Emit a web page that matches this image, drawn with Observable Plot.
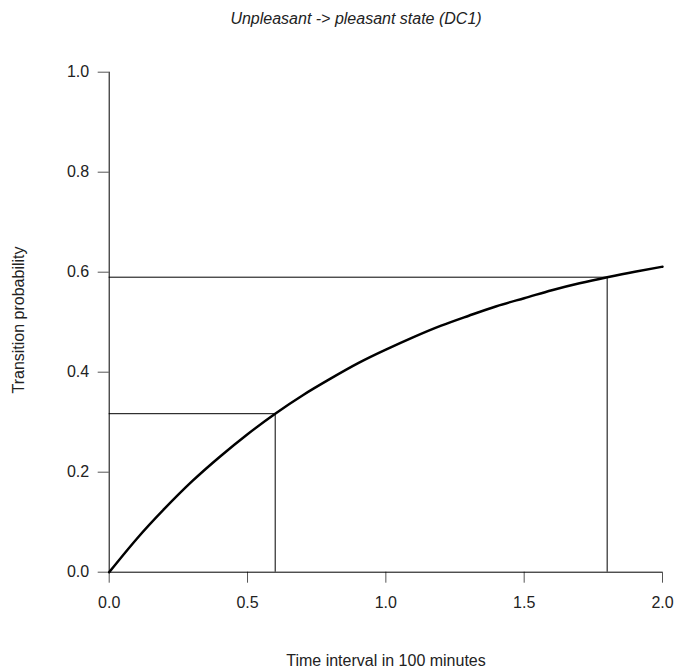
<!DOCTYPE html>
<html>
<head>
<meta charset="utf-8">
<script src="https://cdn.jsdelivr.net/npm/d3@7"></script>
<script src="https://cdn.jsdelivr.net/npm/@observablehq/plot@0.6"></script>
<style>
  html, body { margin: 0; padding: 0; background: #fff; }
  #chart svg { display: block; }
</style>
</head>
<body>
<div id="chart"></div>
<script>
// Values
const titleText = "Unpleasant -> pleasant state (DC1)";
const xLabel = "Time interval in 100 minutes";
const yLabel = "Transition probability";

const times = [0, 0.1, 0.2, 0.3, 0.4, 0.5, 0.6, 0.7, 0.8, 0.9, 1.0,
               1.1, 1.2, 1.3, 1.4, 1.5, 1.6, 1.7, 1.8, 1.9, 2.0];
const probs = [0, 0.067, 0.127, 0.182, 0.231, 0.276, 0.317, 0.354, 0.387, 0.418, 0.445,
               0.470, 0.493, 0.513, 0.532, 0.548, 0.564, 0.578, 0.590, 0.601, 0.611];

const refTimes = [0.6, 1.8];
const refProbs = [0.317, 0.590];

const xTicks = [0, 0.5, 1.0, 1.5, 2.0];
const yTicks = [0, 0.2, 0.4, 0.6, 0.8, 1.0];

const curve = times.map((t, i) => ({t, p: probs[i]}));
const refs = refTimes.map((t, i) => ({t, p: refProbs[i]}));

const font = "'Liberation Sans', Arial, sans-serif";

const plot = Plot.plot({
  width: 675,
  height: 672,
  marginLeft: 108.7,
  marginRight: 13,
  marginTop: 71.7,
  marginBottom: 100.3,
  style: {fontFamily: font, fontSize: "16px", color: "#222", background: "#fff", overflow: "visible"},
  x: {domain: [0, 2]},
  y: {domain: [0, 1]},
  marks: [
    Plot.axisX({ticks: xTicks, tickSize: 11, tickPadding: 13, tickFormat: d => d.toFixed(1), label: null, stroke: "#555", fill: "#222"}),
    Plot.axisY({ticks: yTicks, tickSize: 11, tickPadding: 9, tickFormat: d => d.toFixed(1), label: null, stroke: "#555", fill: "#222"}),
    Plot.ruleY([0], {stroke: "#000", strokeWidth: 1}),
    Plot.ruleX([0], {stroke: "#000", strokeWidth: 1}),
    // reference lines
    Plot.ruleY(refs, {y: "p", x1: 0, x2: "t", stroke: "#000", strokeWidth: 1}),
    Plot.ruleX(refs, {x: "t", y1: 0, y2: "p", stroke: "#000", strokeWidth: 1}),
    // curve
    Plot.line(curve, {x: "t", y: "p", curve: "natural", stroke: "#000", strokeWidth: 2.5})
  ]
});

const svg = d3.select(plot);
svg.append("text")
  .attr("x", 356).attr("y", 24)
  .attr("text-anchor", "middle")
  .attr("font-family", font).attr("font-size", 16).attr("font-style", "italic")
  .attr("fill", "#222")
  .text(titleText);
svg.append("text")
  .attr("x", 386).attr("y", 666)
  .attr("text-anchor", "middle")
  .attr("font-family", font).attr("font-size", 16)
  .attr("fill", "#222")
  .text(xLabel);
svg.append("text")
  .attr("transform", "translate(24,320) rotate(-90)")
  .attr("text-anchor", "middle")
  .attr("font-family", font).attr("font-size", 16)
  .attr("fill", "#222")
  .text(yLabel);

document.getElementById("chart").appendChild(plot);
</script>
</body>
</html>
